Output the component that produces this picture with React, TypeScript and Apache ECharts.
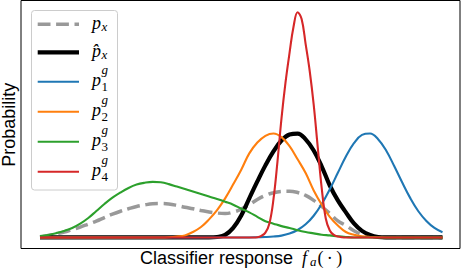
import React, { useEffect, useRef } from "react";
import * as echarts from "echarts";

// ---- data ----
const X_GRID = [0, 2, 4, 6, 8, 10, 12, 14, 16, 18, 20, 22, 24, 26, 28, 30, 32, 34, 36, 38, 40, 42, 44, 46, 48, 50, 52, 54, 56, 58, 60, 62, 64, 66, 68, 70, 72, 74, 76, 78, 80, 82, 84, 86, 88, 90, 92, 94, 96, 98, 100];
const P_X = [0.001, 0.009, 0.016, 0.024, 0.035, 0.046, 0.059, 0.072, 0.088, 0.103, 0.116, 0.127, 0.137, 0.144, 0.149, 0.15, 0.148, 0.142, 0.134, 0.127, 0.119, 0.113, 0.108, 0.106, 0.112, 0.125, 0.145, 0.168, 0.186, 0.198, 0.204, 0.205, 0.199, 0.186, 0.164, 0.137, 0.106, 0.073, 0.053, 0.03, 0.013, 0.004, 0.001, 0, 0, 0, 0, 0, 0, 0, 0];
const P_X_HAT = [0, 0, 0, 0, 0, 0, 0, 0, 0, 0, 0, 0, 0, 0, 0, 0, 0, 0, 0, 0, 0, 0, 0.002, 0.011, 0.042, 0.097, 0.173, 0.248, 0.319, 0.381, 0.429, 0.456, 0.46, 0.434, 0.385, 0.314, 0.23, 0.164, 0.111, 0.062, 0.029, 0.011, 0.002, 0, 0, 0, 0, 0, 0, 0, 0];
const P1 = [0, 0, 0, 0, 0, 0, 0, 0, 0, 0, 0, 0, 0, 0, 0, 0, 0, 0, 0, 0, 0, 0, 0, 0, 0, 0, 0, 0.001, 0.002, 0.004, 0.008, 0.017, 0.033, 0.058, 0.096, 0.148, 0.213, 0.286, 0.358, 0.417, 0.454, 0.46, 0.435, 0.385, 0.316, 0.243, 0.174, 0.116, 0.073, 0.042, 0.023];
const P2 = [0, 0, 0, 0, 0, 0, 0, 0, 0, 0, 0, 0, 0, 0, 0, 0, 0.001, 0.004, 0.009, 0.024, 0.046, 0.08, 0.121, 0.173, 0.235, 0.3, 0.372, 0.42, 0.45, 0.46, 0.444, 0.404, 0.346, 0.285, 0.208, 0.145, 0.091, 0.053, 0.024, 0.012, 0.005, 0.002, 0.001, 0, 0, 0, 0, 0, 0, 0, 0];
const P3 = [0.006, 0.011, 0.019, 0.029, 0.042, 0.061, 0.086, 0.117, 0.148, 0.176, 0.199, 0.219, 0.234, 0.242, 0.246, 0.244, 0.236, 0.225, 0.214, 0.203, 0.192, 0.181, 0.17, 0.158, 0.145, 0.127, 0.111, 0.091, 0.072, 0.061, 0.05, 0.042, 0.032, 0.024, 0.018, 0.012, 0.009, 0.005, 0.002, 0, 0, 0, 0, 0, 0, 0, 0, 0, 0, 0, 0];
const P4_X = [0, 53, 54, 55, 56, 57, 58, 59, 60, 61, 62, 63, 64, 65, 66, 67, 68, 69, 70, 71, 72, 73, 74, 75, 76, 100];
const P4 = [0, 0, 0.001, 0.007, 0.021, 0.062, 0.168, 0.336, 0.527, 0.686, 0.817, 0.934, 0.997, 0.967, 0.856, 0.738, 0.588, 0.401, 0.217, 0.084, 0.031, 0.011, 0.004, 0.001, 0, 0];

const SERIES_NAMES = ["p_x", "p̂_x", "p^g_1", "p^g_2", "p^g_3", "p^g_4"];
const LEGEND_MAIN = ["p", "p\u0302", "p", "p", "p", "p"];
const LEGEND_SUB = ["x", "x", "1", "2", "3", "4"];
const LEGEND_SUP = ["", "", "g", "g", "g", "g"];

// ---- styles ----
const STYLES = [
  { color: "#999999", width: 3.5, dash: [12.8, 5.6] as any },
  { color: "#000000", width: 4.2, dash: "solid" as any },
  { color: "#1f77b4", width: 2.1, dash: "solid" as any },
  { color: "#ff7f0e", width: 2.1, dash: "solid" as any },
  { color: "#2ca02c", width: 2.1, dash: "solid" as any },
  { color: "#d62728", width: 2.1, dash: "solid" as any },
];

const SANS = '"Liberation Sans", Arial, sans-serif';
const SERIF = '"Liberation Serif", "Times New Roman", serif';

function pairs(xs: number[], ys: number[]) {
  return xs.map((x, i) => [x, ys[i]]);
}

function txt(text: string, x: number, y: number, size: number, family: string, italic: boolean, align = "left", extra: any = {}) {
  return {
    type: "text",
    x,
    y,
    z: 100,
    ...extra,
    style: {
      text,
      fontSize: size,
      fontFamily: family,
      fontStyle: italic ? "italic" : "normal",
      fill: "#000",
      align,
      textAlign: align,
      verticalAlign: "middle",
      textVerticalAlign: "middle",
    },
  };
}

export default function App() {
  const ref = useRef<HTMLDivElement>(null);
  useEffect(() => {
    if (!ref.current) return;
    const chart = echarts.init(ref.current, undefined, { renderer: "svg" });

    const seriesData = [
      pairs(X_GRID, P_X),
      pairs(X_GRID, P_X_HAT),
      pairs(X_GRID, P1),
      pairs(X_GRID, P2),
      pairs(X_GRID, P3),
      pairs(P4_X, P4),
    ];

    const rowsY = [24.3, 52.3, 81.7, 111.7, 141.7, 171.7];
    const graphics: any[] = [
      {
        type: "rect",
        z: 99,
        shape: { x: 31.5, y: 10.5, width: 86, height: 179.5, r: 3 },
        style: { fill: "rgba(255,255,255,0.8)", stroke: "#cccccc", lineWidth: 1 },
      },
    ];
    rowsY.forEach((yc, i) => {
      const st = STYLES[i];
      graphics.push({
        type: "line",
        z: 100,
        shape: { x1: 37.7, y1: yc, x2: 79, y2: yc },
        style: {
          stroke: st.color,
          lineWidth: st.width,
          lineDash: Array.isArray(st.dash) ? st.dash : null,
          lineCap: "butt",
        },
      });
      graphics.push(txt(LEGEND_MAIN[i], 92, yc - 1.4, 18, SERIF, true));
      if (LEGEND_SUP[i]) {
        graphics.push(txt(LEGEND_SUP[i], 101.5, yc - 11.8, 13, SERIF, true));
        graphics.push(txt(LEGEND_SUB[i], 101.5, yc + 4.6, 13, SERIF, false));
      } else {
        graphics.push(txt(LEGEND_SUB[i], 101.5, yc + 2.0, 13, SERIF, true));
      }
    });
    // axis labels
    graphics.push(txt("Probability", 9, 124.8, 18, SANS, false, "center", { rotation: Math.PI / 2 }));
    graphics.push(txt("Classifier response", 140, 257.7, 18, SANS, false));
    graphics.push(txt("f", 302, 257.7, 18, SERIF, true));
    graphics.push(txt("a", 310, 261.5, 13, SERIF, true));
    graphics.push(txt("(", 317.5, 257.7, 18, SERIF, false));
    graphics.push(txt("·", 329.8, 257.7, 18, SERIF, false, "center"));
    graphics.push(txt(")", 336.2, 257.7, 18, SERIF, false));

    chart.setOption({
      animation: false,
      grid: {
        left: 21,
        right: 2,
        top: 0.5,
        bottom: 23.5,
        show: true,
        borderColor: "#000",
        borderWidth: 1,
        backgroundColor: "#fff",
      },
      xAxis: {
        type: "value",
        min: -4.72,
        max: 104.35,
        axisLine: { show: false },
        axisTick: { show: false },
        axisLabel: { show: false },
        splitLine: { show: false },
      },
      yAxis: {
        type: "value",
        min: -0.049,
        max: 1.049,
        axisLine: { show: false },
        axisTick: { show: false },
        axisLabel: { show: false },
        splitLine: { show: false },
      },
      series: seriesData.map((d, i) => ({
        name: SERIES_NAMES[i],
        type: "line",
        data: d,
        smooth: 0.4,
        showSymbol: false,
        symbol: "none",
        clip: true,
        lineStyle: {
          color: STYLES[i].color,
          width: STYLES[i].width,
          type: STYLES[i].dash,
          cap: "butt",
        },
      })),
      graphic: graphics,
    });
    return () => chart.dispose();
  }, []);
  return (
    <div
      ref={ref}
      style={{ position: "fixed", left: 0, top: 0, width: 462, height: 272, background: "#fff" }}
    />
  );
}
